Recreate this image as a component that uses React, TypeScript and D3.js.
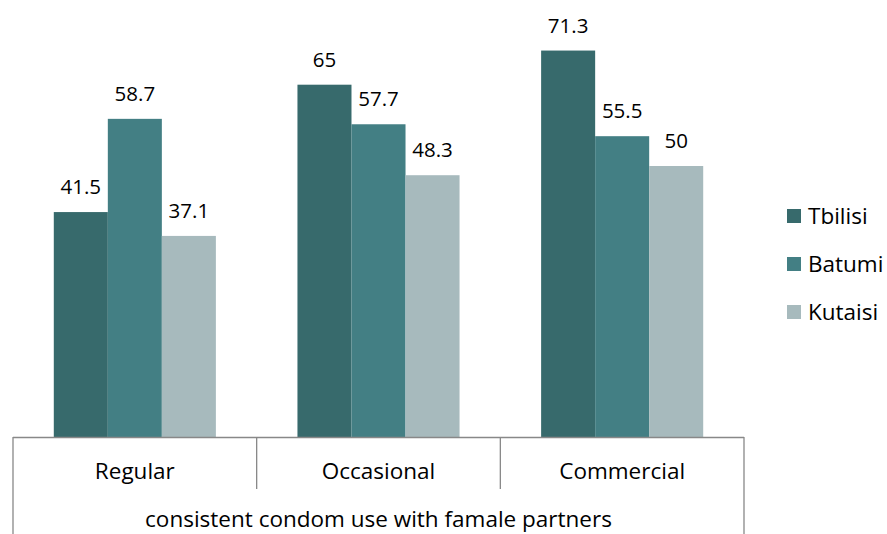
import React from "react";
import * as d3 from "d3";

const categories = ["Regular", "Occasional", "Commercial"];
const seriesNames = ["Tbilisi", "Batumi", "Kutaisi"];
const tbilisi = [41.5, 65, 71.3];
const batumi = [58.7, 57.7, 55.5];
const kutaisi = [37.1, 48.3, 50];
const colors = ["#376a6c", "#437f84", "#a7babd"];
const axisTitle = "consistent condom use with famale partners";

export default function App() {
  const W = 887, H = 534;
  const left = 13, right = 744, base = 437;
  const x0 = d3.scaleBand<string>().domain(categories).range([left, right]).paddingInner(0).paddingOuter(0);
  const x1 = d3.scaleBand<string>().domain(seriesNames).range([0, x0.bandwidth()]).paddingInner(0).paddingOuter(0.755);
  const y = d3.scaleLinear().domain([0, 80]).range([base, base - 80 * 5.42]);
  const series = [tbilisi, batumi, kutaisi];
  const font = "'Open Sans', sans-serif";
  const fsNum = 20.5;
  const fsText = 22.5;
  return (
    <svg width={W} height={H} style={{ position: "absolute", left: 0, top: 0, background: "#fff" }} fontFamily={font}>
      {categories.map((c, ci) => (
        <g key={c} transform={`translate(${x0(c)},0)`}>
          {seriesNames.map((s, si) => {
            const v = series[si][ci];
            const bx = x1(s)!;
            return (
              <g key={s}>
                <rect x={bx} y={y(v)} width={x1.bandwidth()} height={base - y(v)} fill={colors[si]} />
                <text x={bx + x1.bandwidth() / 2} y={y(v) - 18} textAnchor="middle" fontSize={fsNum} fill="#000">{v}</text>
              </g>
            );
          })}
          <text x={x0.bandwidth() / 2} y={479} textAnchor="middle" fontSize={fsText} fill="#000">{c}</text>
        </g>
      ))}
      <line x1={left} x2={right} y1={base + 0.5} y2={base + 0.5} stroke="#888" strokeWidth={1.3} />
      {categories.slice(1).map((c) => (
        <line key={c} x1={x0(c)!} x2={x0(c)!} y1={base} y2={489} stroke="#888" strokeWidth={1.3} />
      ))}
      <line x1={left} x2={left} y1={base} y2={H} stroke="#888" strokeWidth={1.3} />
      <line x1={right} x2={right} y1={base} y2={H} stroke="#888" strokeWidth={1.3} />
      <text x={(left + right) / 2} y={527} textAnchor="middle" fontSize={fsText} fill="#000">{axisTitle}</text>
      {seriesNames.map((s, i) => (
        <g key={s} transform={`translate(787,${209 + i * 48})`}>
          <rect x={0} y={0} width={14} height={14} fill={colors[i]} />
          <text x={21} y={15} fontSize={fsText} fill="#000">{s}</text>
        </g>
      ))}
    </svg>
  );
}
